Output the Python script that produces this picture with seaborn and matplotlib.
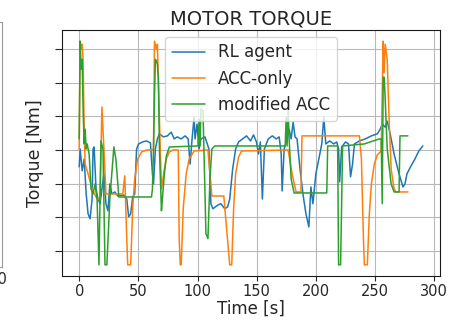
import matplotlib
matplotlib.use("Agg")
import matplotlib.pyplot as plt
import pandas as pd
import seaborn as sns

# torque traces (time in s, torque in Nm)
rl_time = [0, 0.8, 2.5, 4.2, 5.9, 7.5, 9.2, 10.9, 11.7, 12.6, 14.2, 15.9, 17.6, 19.2,
           20.9, 22.6, 24.3, 25.9, 27.6, 30.1, 32.6, 37.7, 40.2, 41.8, 43.5, 45.2,
           46.9, 48.5, 50.2, 53.6, 56.9, 60.2, 61.9, 62.8, 64.4, 66.1, 67.8, 71.1,
           74.5, 77.8, 80.3, 82.8, 86.2, 89.5, 92.1, 93.7, 95.4, 97.1, 97.9, 99.6,
           101.3, 102.9, 106.3, 109.6, 111.3, 113.0, 116.3, 119.7, 123.0, 125.5,
           127.2, 129.7, 132.2, 134.7, 138.1, 141.4, 144.8, 147.3, 149.8, 151.5,
           153.1, 154.8, 156.5, 159.8, 163.2, 166.5, 169.0, 170.7, 171.5, 173.2,
           175.7, 177.4, 179.1, 180.8, 182.4, 184.1, 186.6, 189.1, 191.6, 194.1,
           195.8, 197.5, 200.0, 202.5, 205.0, 206.7, 208.4, 211.7, 215.1, 217.6,
           219.2, 220.1, 221.8, 225.1, 227.6, 229.3, 231.0, 232.6, 236.8, 241.8,
           246.9, 251.9, 254.4, 256.1, 258.6, 260.3, 262.8, 266.1, 270.3, 273.6,
           275.3, 277.0, 280.3, 283.7, 287.0, 290.4]
rl_torque = [-50, 3, -62, -27, -131, -190, -205, -146, 3, 9, -116, -146, -160, -116,
             -71, -160, -181, -101, -131, -125, -137, -134, -146, -199, -190, -140,
             -131, 3, 18, 24, 27, 21, -71, -101, 3, 33, 48, 39,
             42, 53, 33, 39, 33, 42, 33, -42, 33, 98, 33, 77,
             3, 33, 39, 3, -160, -175, -166, -160, -175, -169,
             -146, -56, 3, 24, 33, 42, 27, 45, 24, -12,
             24, -146, 3, 33, 42, 33, 39, -12, -122, 3,
             33, 62, 33, 83, 39, 33, -56, -131, -190, -229,
             -110, -160, -71, -27, 18, 98, 18, 27, 18, 24,
             3, -95, 9, 24, 18, -80, -42, 18, 27, 33,
             42, 48, 62, 77, 68, 86, 48, -12, -71, -110,
             -101, -71, -48, -27, -3, 12]

acc_time = [0, 0.8, 1.7, 2.5, 3.3, 4.2, 5.0, 7.5, 10.9, 15.1, 17.6, 19.2, 20.9, 22.6,
            36.8, 38.5, 40.2, 41.0, 43.5, 45.2, 46.9, 49.4, 52.7, 56.9, 62.8, 63.6,
            65.3, 66.1, 67.8, 69.5, 72.0, 73.6, 76.2, 79.5, 83.7, 84.5, 85.4, 86.2,
            87.9, 90.4, 92.9, 97.1, 108.8, 112.1, 122.2, 127.2, 128.9, 130.5, 132.2,
            134.7, 137.2, 176.6, 179.9, 183.3, 187.4, 188.3, 236.8, 238.5, 240.2,
            241.0, 243.5, 245.2, 246.9, 249.4, 251.9, 255.2, 256.9, 257.7, 258.6,
            260.3, 261.9, 263.6, 266.1, 267.8, 277.8]
acc_torque = [0, 324, 300, 315, 270, 62, -42, -71, -116, -146, -146, 128, 3, -131,
              -131, -77, -264, -342, -342, -175, -86, -27, -6, 0, 0, 324,
              300, 315, 92, -116, -56, -27, -6, 0, 0, -264, -342, -342,
              -175, -71, -27, -3, 0, -137, -137, -342, -342, -175, -71,
              -21, -3, 0, -71, -125, -125, 42, 42, -27, -264,
              -342, -342, -190, -101, -42, -15, -3, 324, 230, 315,
              270, 92, -56, -116, -125, -125]

mod_time = [0, 0.8, 1.7, 2.5, 3.3, 4.2, 5.0, 5.9, 6.7, 8.4, 10.0, 11.7, 13.4, 15.1,
            16.7, 18.4, 20.1, 21.8, 23.4, 25.9, 29.3, 31.0, 33.5, 61.1, 61.9, 62.8,
            63.6, 64.4, 65.3, 66.1, 66.9, 67.8, 69.5, 70.3, 72.0, 73.6, 76.2, 100.4,
            101.3, 102.1, 102.9, 104.6, 105.4, 107.1, 108.8, 110.5, 112.1, 114.6,
            174.1, 174.9, 175.7, 176.6, 177.4, 179.1, 181.6, 209.2, 210.0, 218.4,
            219.2, 220.9, 222.6, 241.0, 253.6, 255.2, 256.1, 256.9, 257.7, 258.6,
            260.3, 263.6, 266.1, 270.3, 271.1, 277.8]
mod_torque = [33, 324, 241, 270, 122, 18, 62, 3, 18, -12, -116, -131, -101, -146,
              -342, 27, 3, -342, -342, -146, 9, -27, -140, -140, -116, 3,
              151, 270, 264, 255, 211, 3, -181, -146, -71, -18, 9, 12,
              92, 12, 122, 116, 3, -249, -264, -86, 3, 12,
              12, 98, 12, 122, 33, -86, -128, -128, 12, 12,
              -342, -342, 12, 18, 33, 33, -160, 217, 217, 151,
              3, -101, -125, -125, 42, 42]

series_names = ["RL agent", "ACC-only", "modified ACC"]

df = pd.concat([
    pd.DataFrame({"time": rl_time, "torque": rl_torque, "series": series_names[0]}),
    pd.DataFrame({"time": acc_time, "torque": acc_torque, "series": series_names[1]}),
    pd.DataFrame({"time": mod_time, "torque": mod_torque, "series": series_names[2]}),
], ignore_index=True)

sns.set_style("whitegrid", {
    "axes.edgecolor": "0.1",
    "grid.color": "0.72",
    "xtick.bottom": True,
    "ytick.left": True,
})
plt.rcParams["font.family"] = ["DejaVu Sans"]

fig = plt.figure(figsize=(4.54, 3.23), dpi=100)

# neighbouring panel, only its right edge shows in the crop
ax0 = fig.add_axes([-0.5, 0.173, 0.504, 0.76])
ax0.set_xlim(-14.5, 312)
ax0.set_xticks([300])
ax0.tick_params(labelsize=10.5, labelleft=False, length=0)
ax0.set_yticks([])
ax0.grid(False)
for sp in ax0.spines.values():
    sp.set_color("0.6")

ax = fig.add_axes([0.1366, 0.1455, 0.8326, 0.7616])
sns.lineplot(data=df, x="time", y="torque", hue="series", hue_order=series_names,
             palette=["#1f77b4", "#ff7f0e", "#2ca02c"], estimator=None, sort=False,
             linewidth=1.1, ax=ax)

ax.set_title("MOTOR TORQUE", fontsize=14, pad=4)
ax.set_xlabel("Time [s]", fontsize=12, labelpad=1)
ax.set_ylabel("Torque [Nm]", fontsize=12.5, labelpad=8)
ax.set_xticks([0, 50, 100, 150, 200, 250, 300])
ax.set_yticks([-300, -200, -100, 0, 100, 200, 300])
ax.tick_params(axis="x", labelsize=10.5, length=3.5, width=0.8, pad=2)
ax.tick_params(axis="y", labelleft=False, length=5, width=0.8)
ax.legend(loc="upper center", fontsize=12, frameon=True, handlelength=2.0,
          borderaxespad=0.4)

fig.savefig("out.png", dpi=100)
